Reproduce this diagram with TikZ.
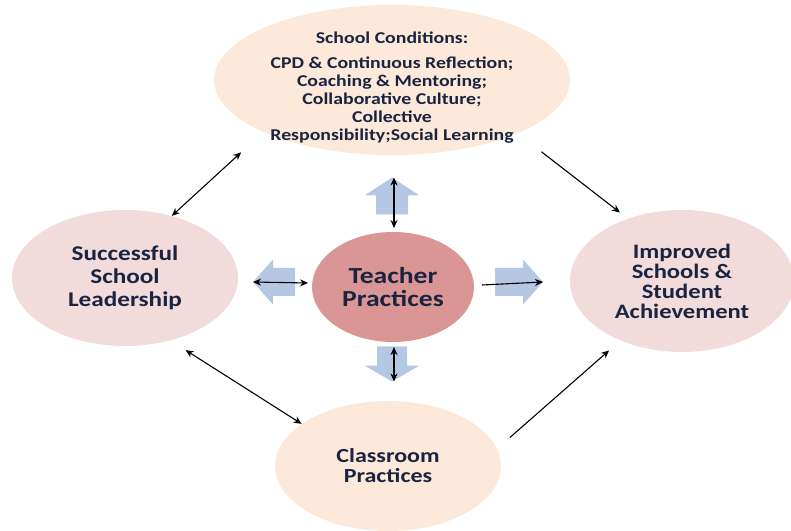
\documentclass[tikz,border=0pt]{standalone}
\usepackage{fontspec}
\setmainfont{Carlito}[FakeStretch=1.2]
\usepackage{tikz}
\usetikzlibrary{arrows.meta,calc,shapes.geometric}
\definecolor{peach}{HTML}{FDE9D9}
\definecolor{rose}{HTML}{F2DCDB}
\definecolor{tpred}{HTML}{D99694}
\definecolor{steel}{HTML}{B4C7E3}
\definecolor{navytxt}{HTML}{1A2440}

\begin{document}
\begin{tikzpicture}[x=1pt,y=1pt,>={Stealth[length=8pt,width=7pt]},
  oval/.style={ellipse,inner sep=0pt,align=center,text=navytxt},
  pics/blkarrow/.style n args={4}{code={
    \fill[steel] (-#1/2,-#3/2) -- (#1/2-#4,-#3/2) -- (#1/2-#4,-#2/2) -- (#1/2,0)
      -- (#1/2-#4,#2/2) -- (#1/2-#4,#3/2) -- (-#1/2,#3/2) -- cycle;
    \coordinate (-tip) at (#1/2,0);}},
  link/.style={<->,line width=1.1pt}]
 \useasboundingbox (0,0) rectangle (791,530);
 \node[oval,fill=peach,minimum width=356,minimum height=150,
   label={[align=center,text=navytxt,yshift=-8pt,
     font=\bfseries\fontsize{16.5}{18}\selectfont]center:{School Conditions:\\[7pt]
    CPD \& Continuous Reflection;\\ Coaching \& Mentoring;\\
    Collaborative Culture;\\ Collective\\ Responsibility;Social Learning}}] (sc) at (392,450) {};
 \node[oval,fill=rose,minimum width=226,minimum height=136,
   font=\bfseries\fontsize{21}{23}\selectfont] (sl) at (125,252)
   {Successful\\ School\\ Leadership};
 \node[oval,fill=rose,minimum width=224,minimum height=142,
   font=\bfseries\fontsize{20.5}{20}\selectfont] (ir) at (682,249)
   {Improved\\ Schools \&\\ Student\\ Achievement};
 \node[oval,fill=tpred,minimum width=162,minimum height=110,
   font=\bfseries\fontsize{23}{23}\selectfont] (tp) at (393,243)
   {Teacher\\ Practices};
 \node[oval,fill=peach,minimum width=226,minimum height=130,
   font=\bfseries\fontsize{20}{20}\selectfont] (cp) at (388,64)
   {Classroom\\ Practices};
 \pic[rotate=90] (bu) at (392,334) {blkarrow={37}{55}{32}{18}};
 \pic[rotate=-90] (bd) at (392,166) {blkarrow={35}{55}{30}{16}};
 \pic[rotate=180] (bl) at (274,248) {blkarrow={42}{45}{28}{20}};
 \pic (br) at (519,248) {blkarrow={48}{45}{28}{20}};
 \coordinate (tn) at (394,302);
 \coordinate (ts) at (394,183);
 \coordinate (tw) at (308,247);
 \coordinate (te) at (482,245);
 \draw[link] ($(bu-tip)+(2,0)$) -- (tn);
 \draw[link] (ts) -- ($(bd-tip)+(2,0)$);
 \draw[link] (bl-tip) -- (tw);
 \draw[->,line width=1.1pt] (te) -- (br-tip);
 \draw[link,shorten >=30pt] (sl.53) -- (sc.202);
 \draw[->,line width=1.1pt,shorten <=30pt,shorten >=10pt] (sc.337) -- (ir.131);
 \draw[link,shorten <=18pt] (sl.306) -- (cp.154);
 \draw[->,line width=1.1pt,shorten <=17pt,shorten >=15pt] (cp.9) -- (ir.224);
\end{tikzpicture}
\end{document}
